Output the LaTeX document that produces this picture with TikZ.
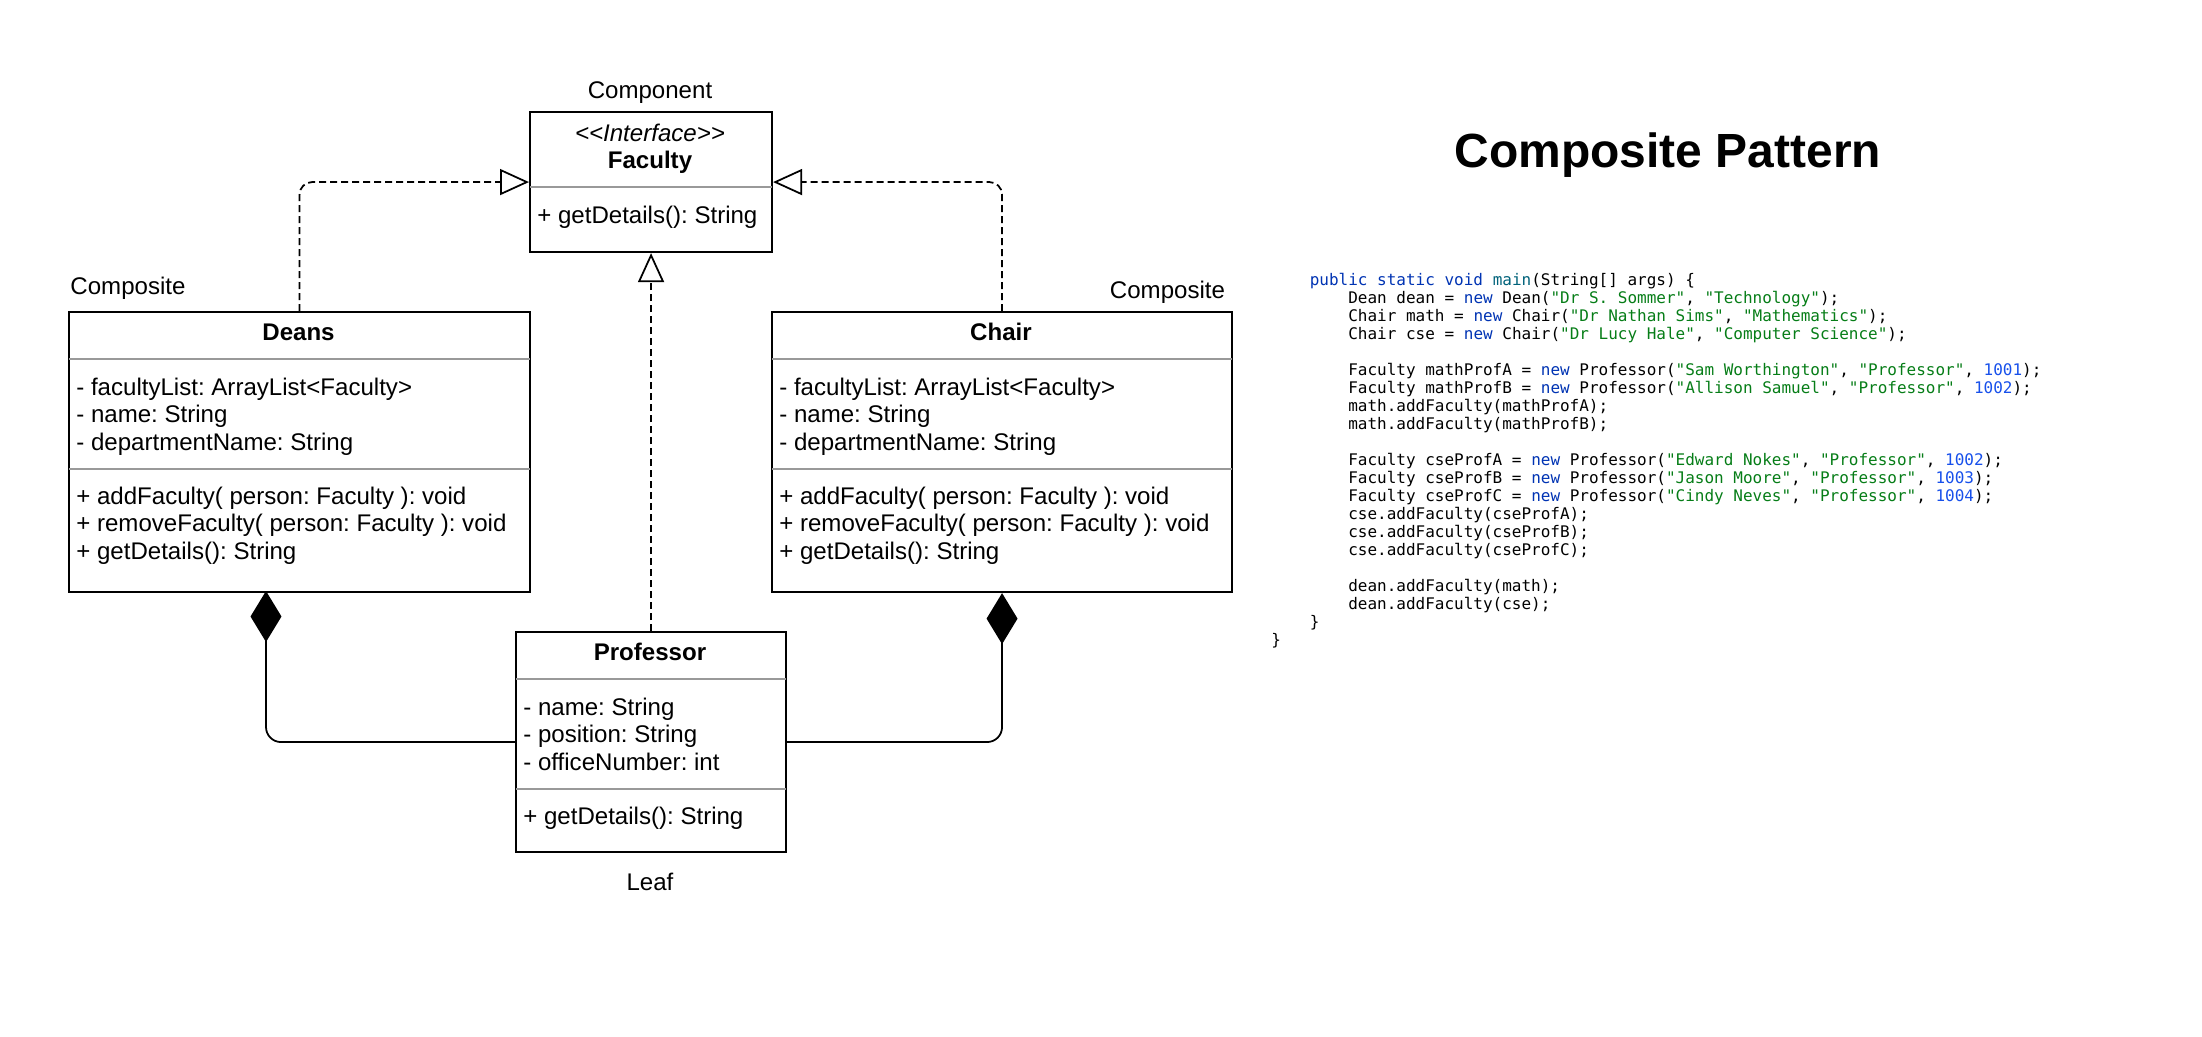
\documentclass[tikz,border=0pt]{standalone}
\usepackage{fontspec}
\usepackage{tikz}
\usetikzlibrary{positioning}
\usetikzlibrary{calc}
\usetikzlibrary{arrows.meta}

\newfontfamily\umlfont{Liberation Sans}
\newfontfamily\codefont{DejaVu Sans Mono}

\definecolor{sepgray}{HTML}{999999}
\definecolor{kwblue}{HTML}{0033B3}
\definecolor{fnteal}{HTML}{00627A}
\definecolor{strgreen}{HTML}{067D17}
\definecolor{numblue}{HTML}{1750EB}

\newcommand{\jkw}[1]{\textcolor{kwblue}{#1}}
\newcommand{\jfn}[1]{\textcolor{fnteal}{#1}}
\newcommand{\jstr}[1]{\textcolor{strgreen}{#1}}
\newcommand{\jnum}[1]{\textcolor{numblue}{#1}}
\newcommand{\jind}{\hphantom{0000}}

\tikzset{
  classbox/.style 2 args={draw, line width=1.2pt, fill=white, anchor=north west,
    inner sep=0pt, minimum width={#1*0.02cm}, minimum height={#2*0.02cm}},
  classname/.style={font=\umlfont\fontsize{13.7}{15.75}\selectfont\frenchspacing\bfseries, inner sep=0pt, anchor=base},
  members/.style={font=\umlfont\fontsize{13.7}{15.75}\selectfont\frenchspacing, align=left, anchor=north west,
    inner sep=0pt, execute at begin node=\strut, execute at end node=\strut},
  role/.style={font=\umlfont\fontsize{13.7}{15.75}\selectfont\frenchspacing, inner sep=0pt, anchor=base},
  sepline/.style={draw=sepgray, line width=1.2pt, shorten <=0.6pt, shorten >=0.6pt},
  codeblock/.style={font=\codefont\fontsize{9.1}{10.27}\selectfont\frenchspacing, align=left,
    anchor=north west, inner sep=0pt, execute at begin node=\strut, execute at end node=\strut},
  realize/.style={line width=1pt, dash pattern=on 0.14cm off 0.08cm, rounded corners=0.25cm,
    -{Triangle[open, length=0.58cm, width=0.52cm, fill=white]}},
  compose/.style={line width=1pt, rounded corners=0.3cm,
    {Diamond[length=1.02cm, width=0.62cm]}-},
}

\begin{document}
\begin{tikzpicture}[x=0.02cm, y=-0.02cm]
    \useasboundingbox (0,0) rectangle (2202,1036);

    % classes
    \node[classbox={242}{140}] (faculty) at (529,111) {};
    \node[classbox={461}{280}] (deans) at (68,311) {};
    \node[classbox={460}{280}] (chair) at (771,311) {};
    \node[classbox={270}{220}] (professor) at (515,631) {};

    \draw[sepline] ($(faculty.north west)+(0,76)$) -- ($(faculty.north east)+(0,76)$);
    \draw[sepline] ($(deans.north west)+(0,48)$) -- ($(deans.north east)+(0,48)$);
    \draw[sepline] ($(deans.north west)+(0,158)$) -- ($(deans.north east)+(0,158)$);
    \draw[sepline] ($(chair.north west)+(0,48)$) -- ($(chair.north east)+(0,48)$);
    \draw[sepline] ($(chair.north west)+(0,158)$) -- ($(chair.north east)+(0,158)$);
    \draw[sepline] ($(professor.north west)+(0,48)$) -- ($(professor.north east)+(0,48)$);
    \draw[sepline] ($(professor.north west)+(0,158)$) -- ($(professor.north east)+(0,158)$);

    % class texts
    \node[members, anchor=north, align=center] (facultyhead) at (650,123.5)
      {\textit{<<Interface>>}\\\textbf{Faculty}};
    \node[role, anchor=base west] (facultyops) at (537,223) {+ getDetails(): String};

    \node[classname] (deansname) at (298.5,340) {Deans};
    \node[members] (deansattr) at (76,377.5)
      {- facultyList: ArrayList<Faculty>\\- name: String\\- departmentName: String};
    \node[members] (deansops) at (76,486.5)
      {+ addFaculty( person: Faculty ): void\\+ removeFaculty( person: Faculty ): void\\+ getDetails(): String};

    \node[classname] (chairname) at (1001,340) {Chair};
    \node[members] (chairattr) at (779,377.5)
      {- facultyList: ArrayList<Faculty>\\- name: String\\- departmentName: String};
    \node[members] (chairops) at (779,486.5)
      {+ addFaculty( person: Faculty ): void\\+ removeFaculty( person: Faculty ): void\\+ getDetails(): String};

    \node[classname] (profname) at (650,660) {Professor};
    \node[members] (profattr) at (523,697.5)
      {- name: String\\- position: String\\- officeNumber: int};
    \node[role, anchor=base west] (profops) at (523,824) {+ getDetails(): String};

    % roles
    \node[role] (componentlbl) at (650,98) {Component};
    \node[role] (leftrole) at (128,294) {Composite};
    \node[role] (rightrole) at (1167.5,298) {Composite};
    \node[role] (leaflbl) at (650,890) {Leaf};

    % relations
    \draw[realize] (deans.north) |- (faculty.west);
    \draw[realize] (chair.north) |- (faculty.east);
    \draw[realize] (professor.north) -- (faculty.south);
    \coordinate (deansjoin) at (266,591);
    \draw[compose] (deansjoin) |- (professor.west);
    \draw[compose] (chair.south) |- (professor.east);

    % title and code
    \node[font=\umlfont\fontsize{27.3}{32}\selectfont\bfseries, inner sep=0pt, anchor=base] (title)
      at (1668,167) {Composite Pattern};

    \node[codeblock] (code) at (1271,272.5) {%
\jind\jkw{public static void} \jfn{main}(String[] args) \{\\
\jind\jind Dean dean = \jkw{new} Dean(\jstr{"Dr S. Sommer"}, \jstr{"Technology"});\\
\jind\jind Chair math = \jkw{new} Chair(\jstr{"Dr Nathan Sims"}, \jstr{"Mathematics"});\\
\jind\jind Chair cse = \jkw{new} Chair(\jstr{"Dr Lucy Hale"}, \jstr{"Computer Science"});\\
\mbox{}\\
\jind\jind Faculty mathProfA = \jkw{new} Professor(\jstr{"Sam Worthington"}, \jstr{"Professor"}, \jnum{1001});\\
\jind\jind Faculty mathProfB = \jkw{new} Professor(\jstr{"Allison Samuel"}, \jstr{"Professor"}, \jnum{1002});\\
\jind\jind math.addFaculty(mathProfA);\\
\jind\jind math.addFaculty(mathProfB);\\
\mbox{}\\
\jind\jind Faculty cseProfA = \jkw{new} Professor(\jstr{"Edward Nokes"}, \jstr{"Professor"}, \jnum{1002});\\
\jind\jind Faculty cseProfB = \jkw{new} Professor(\jstr{"Jason Moore"}, \jstr{"Professor"}, \jnum{1003});\\
\jind\jind Faculty cseProfC = \jkw{new} Professor(\jstr{"Cindy Neves"}, \jstr{"Professor"}, \jnum{1004});\\
\jind\jind cse.addFaculty(cseProfA);\\
\jind\jind cse.addFaculty(cseProfB);\\
\jind\jind cse.addFaculty(cseProfC);\\
\mbox{}\\
\jind\jind dean.addFaculty(math);\\
\jind\jind dean.addFaculty(cse);\\
\jind\}\\
\}};
\end{tikzpicture}
\end{document}
